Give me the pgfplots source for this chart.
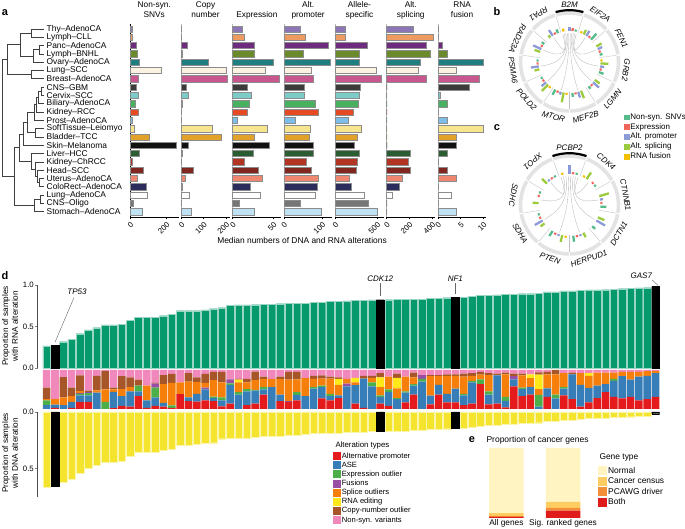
\documentclass[border=0pt]{standalone}
\usepackage{fontspec}
\setmainfont{Liberation Sans}
\usepackage{pgfplots}
\usepackage{pgfplotstable}
\pgfplotsset{compat=1.18}

% tumour-type colours (rows of panel a, top to bottom)
\definecolor{c0}{HTML}{8C76B6}\definecolor{c1}{HTML}{EE9B62}\definecolor{c2}{HTML}{6E2C7F}
\definecolor{c3}{HTML}{6A8A2B}\definecolor{c4}{HTML}{1E7E80}\definecolor{c5}{HTML}{FCF2E2}
\definecolor{c6}{HTML}{C7578E}\definecolor{c7}{HTML}{3B3B3B}\definecolor{c8}{HTML}{7CCBC6}
\definecolor{c9}{HTML}{49B060}\definecolor{c10}{HTML}{E64A24}\definecolor{c11}{HTML}{7DBDEA}
\definecolor{c12}{HTML}{F6E48E}\definecolor{c13}{HTML}{E2A229}\definecolor{c14}{HTML}{111111}
\definecolor{c15}{HTML}{2A5E32}\definecolor{c16}{HTML}{B43424}\definecolor{c17}{HTML}{822620}
\definecolor{c18}{HTML}{EE8670}\definecolor{c19}{HTML}{2B2B5C}\definecolor{c20}{HTML}{FFFFFF}
\definecolor{c21}{HTML}{767676}\definecolor{c22}{HTML}{BEE2F4}
% panel d
\definecolor{apc}{HTML}{E41A1C}\definecolor{asec}{HTML}{377EB8}\definecolor{exoc}{HTML}{4DAF4A}
\definecolor{fusc}{HTML}{984EA3}\definecolor{splc}{HTML}{F57F0A}\definecolor{editc}{HTML}{FFE81A}
\definecolor{cnoc}{HTML}{A65628}\definecolor{nsvc}{HTML}{F088BC}
\definecolor{dgreen}{HTML}{05996B}\definecolor{dyel}{HTML}{F5E42E}
% panel e
\definecolor{norc}{HTML}{FFF4C2}\definecolor{cenc}{HTML}{FDCD62}\definecolor{drvc}{HTML}{F28E36}\definecolor{bothc}{HTML}{E01B1B}
% panels b, c
\definecolor{snvc}{HTML}{55BB8B}\definecolor{expc}{HTML}{F2665A}\definecolor{promc}{HTML}{8C9BD8}
\definecolor{spc}{HTML}{9BCB3C}\definecolor{rfc}{HTML}{F3C000}

\pgfplotsset{
  every axis/.append style={/pgf/number format/assume math mode=true,
    tick label style={font=\fontsize{7.8}{9.5}\selectfont}, scale only axis, anchor=south west},
  abar/.style={xbar, bar shift=0pt, bar width=6.3pt, draw=black!45, line width=0.5pt},
  colstyle/.style={width=48.5pt, height=193pt, xmin=0, ymin=-0.6, ymax=22.64, y dir=reverse,
    axis x line*=bottom, axis y line*=left, axis line style={-}, ytick=\empty,
    tick align=outside, major tick length=2.5pt, xtick style={black, line width=0.5pt},
    xticklabel style={rotate=45, anchor=north east, inner sep=1pt},
    title style={at={(0.5,1)}, anchor=south, align=center, inner sep=1pt, yshift=-2.5pt,
      text depth=2pt, font=\fontsize{8.3}{9.8}\selectfont},
    clip=false},
  dend/.style={no marks, line width=0.7pt, black!75},
  sqd/.style={fill=#1, draw=none, legend image code/.code={\fill[#1] (0pt,-4pt) rectangle (8pt,4pt);}},
  sqe/.style={fill=#1, draw=none, legend image code/.code={\fill[#1] (0pt,-4.5pt) rectangle (9pt,4.5pt);}},
}

\pgfplotstableread{
idx snv cn expr prom ase spl fus
0 11 0 12.3 42 123 236 0
1 15 0 14.7 56 123 413 0
2 35 25 27 115 385 345 1
3 38 3 26.2 50 290 381 2
4 51 119 49.5 121 290 298 10
5 170 203 39.7 71 488 277 4
6 44 207 56.9 76 555 348 9
7 37 22 18 53 305 0 7
8 45 33 23 54 290 0 0.5
9 27 3 20.9 81 278 0 2
10 44 0 18 89 218 0 0
11 15 0 5.3 29 151 0 2
12 26 140 43 70 313 0 10
13 108 177 27 67 266 0 4
14 252 31 45.4 76 222 0 4
15 49 3 25.4 76 290 212 2
16 13 0 14.7 59 262 192 0
17 70 54 31.1 72 250 212 2
18 42 19 36.8 91 171 142 4
19 89 6 22.1 88 190 112 0
20 95 37 34.4 82 349 50 3
21 16 0 8.6 44 393 0 0
22 66 46 27 98 504 0 4
}\dataA

\pgfplotstableread{
i rna dna hl ap ase exo fus spl edit cno nsv
0 0.265 0.666 0 0 10 12 0 3 0 30 45
1 0.277 0.660 1 3 8 0 0 14 0 0 75
2 0.317 0.620 0 0 10 0 0 20 0 52 18
3 0.346 0.597 0 3 15 0 0 15 0 22 45
4 0.413 0.539 0 18 17 4 2 5 0 40 14
5 0.458 0.500 0 18 17 6 2 0 0 4 53
6 0.486 0.475 0 0 42 0 0 6 0 37 15
7 0.518 0.448 0 0 0 18 0 32 0 47 3
8 0.518 0.448 0 2 42 0 0 6 0 5 45
9 0.527 0.439 0 8 25 0 0 18 0 33 16
10 0.575 0.394 0 6 39 0 0 11 0 25 19
11 0.614 0.357 0 33 12 15 0 0 0 15 25
12 0.614 0.357 0 3 19 0 0 38 0 0 40
13 0.614 0.357 0 8 22 25 10 0 0 2 33
14 0.630 0.342 0 6 10 0 0 48 0 23 13
15 0.650 0.327 0 3 0 6 0 58 0 23 10
16 0.690 0.294 0 38 0 0 0 30 0 0 32
17 0.690 0.294 0 20 10 0 0 40 0 22 8
18 0.690 0.288 0 19 20 0 0 30 0 12 19
19 0.700 0.279 0 22 28 0 5 12 0 23 10
20 0.714 0.272 0 20 8 4 0 42 0 21 5
21 0.727 0.236 0 7 15 8 0 38 0 27 5
22 0.755 0.233 0 14 47 5 10 0 0 0 24
23 0.760 0.230 0 0 37 6 0 25 7 2 23
24 0.760 0.230 0 10 35 6 0 17 0 9 23
25 0.763 0.221 0 14 33 2 0 25 0 22 4
26 0.767 0.218 0 37 13 6 0 21 0 6 17
27 0.770 0.215 0 0 56 0 0 21 0 0 23
28 0.775 0.212 0 20 17 0 0 40 0 6 17
29 0.780 0.209 0 18 0 0 2 55 0 20 5
30 0.780 0.206 0 22 14 7 0 33 0 19 5
31 0.783 0.200 0 0 33 0 0 47 0 0 20
32 0.790 0.190 0 0 52 4 0 21 0 8 15
33 0.790 0.190 0 27 29 4 0 18 0 8 14
34 0.807 0.184 0 22 11 6 0 39 0 5 17
35 0.807 0.188 0 28 7 0 0 27 15 4 19
36 0.810 0.180 0 0 58 0 7 12 0 0 23
37 0.815 0.178 0 14 47 0 0 7 12 0 20
38 0.815 0.178 0 3 75 0 0 0 0 7 15
39 0.820 0.174 0 0 58 10 0 12 0 5 15
40 0.823 0.171 1 14 17 4 0 21 25 11 8
41 0.823 0.171 0 8 35 7 0 33 0 0 17
42 0.827 0.168 0 0 25 3 0 25 27 11 9
43 0.827 0.168 0 17 25 3 0 38 0 0 17
44 0.830 0.165 0 37 23 4 0 17 0 12 7
45 0.830 0.165 0 0 70 7 10 0 0 0 13
46 0.840 0.155 0 12 22 0 0 50 0 3 13
47 0.840 0.155 0 37 25 0 0 22 0 3 13
48 0.847 0.148 0 17 22 0 0 46 0 4 11
49 0.855 0.140 1 17 35 0 0 33 0 4 11
50 0.855 0.140 0 10 25 4 0 44 0 8 9
51 0.860 0.135 0 14 54 4 0 13 0 7 8
52 0.875 0.122 0 64 0 12 0 12 0 7 5
53 0.875 0.120 0 12 25 8 0 42 0 5 8
54 0.880 0.115 0 14 72 0 0 0 0 5 9
55 0.890 0.105 0 4 17 10 0 58 0 4 7
56 0.890 0.105 0 58 18 0 8 0 0 7 9
57 0.895 0.100 0 33 18 4 0 31 0 5 9
58 0.895 0.100 0 37 19 0 0 23 10 0 11
59 0.900 0.095 0 0 6 30 0 15 37 6 6
60 0.916 0.080 0 31 22 0 0 36 0 6 5
61 0.916 0.080 0 0 27 10 0 52 0 11 0
62 0.928 0.070 0 35 17 4 0 36 0 0 8
63 0.928 0.070 0 25 64 0 0 0 0 4 7
64 0.936 0.062 0 6 56 0 0 30 0 0 8
65 0.940 0.058 0 17 37 0 0 31 7 0 8
66 0.940 0.058 0 28 32 0 0 33 0 0 7
67 0.943 0.055 0 43 21 0 0 29 0 0 7
68 0.947 0.050 0 31 41 5 0 16 0 0 7
69 0.955 0.045 0 27 57 0 0 11 0 0 5
70 0.960 0.042 0 31 44 0 0 20 0 0 5
71 0.964 0.040 0 22 61 0 0 12 0 0 5
72 0.967 0.037 0 25 60 0 0 12 0 0 3
73 0.984 0.015 1 31 61 0 0 6 0 0 2
}\dataD

\pgfplotstableread{
i both drv cen nor
0 1.5 1.5 4 93
1 10.6 3.9 8.7 76.8
}\dataE

% circos bars: lengths (pt) per alteration type for each gene
\pgfplotstableread{
gene ang snv exp prom spl fus
B2M 90 2 3 4 0 3
EIF2A 57.27 8 2 6 5 2
FEN1 24.55 3 2 5 6 0
GRB2 -8.18 5 2 4 8 2
LGMN -40.91 3 2 8 6 0
MEF2B -73.64 4 2 6 8 0
MTOR -106.36 6 2 3 10 2
POLD2 -139.09 2 2 6 9 2
PSMA6 -171.82 2 2 8 5 0
RAD23A 155.45 3 2 9 6 0
RPA1 122.73 4 2 7 3 0
}\circB
\pgfplotstableread{
gene ang snv exp prom spl fus
PCBP2 90 2 2 9 0 2
CDK4 50 2 2 0 8 2
CTNNB1 10 6 2 3 10 0
DCTN1 -30 4 0 10 7 0
HERPUD1 -70 6 2 2 5 0
PTEN -110 6 2 2 7 2
SDHA -150 2 2 9 5 0
SDHC 170 2 2 0 6 0
XPO1 130 2 2 2 7 0
}\circC

\newcommand{\acol}[6]{%
\begin{axis}[colstyle, at={(#1pt,312pt)}, xmax=#3, xtick={#4}, title={#5}, y axis line style={#6}]
\pgfplotsinvokeforeach{0,...,22}{%
\addplot[abar, fill=c##1, restrict expr to domain={\thisrow{idx}}{##1:##1}] table[x=#2, y=idx] {\dataA};}
\end{axis}}

\newcommand{\qbar}[4]{\addplot[#4, forget plot, line width=2.3pt,
  quiver={u={\thisrow{#2}*cos(\thisrow{ang}+#3)}, v={\thisrow{#2}*sin(\thisrow{ang}+#3)},
  every arrow/.append style={line width=2.3pt}}]
  table[x expr={31*cos(\thisrow{ang}+#3)}, y expr={31*sin(\thisrow{ang}+#3)}] {#1};}

\newcommand{\ringdeco}[4]{% center, n, names, n-1
\begin{scope}[shift={#1}]
 \pgfmathsetmacro{\sw}{360/#2}
 \foreach \j in {1,...,#4} {
   \pgfmathsetmacro{\aa}{90-\sw/2+3+(\sw-6)*(\j-1)/(#4-1)}
   \pgfmathsetmacro{\bb}{90-\sw*\j}
   \draw[gray!55, line width=0.35pt] (\aa:29pt) .. controls (\aa:8pt) and (\bb:8pt) .. (\bb:29pt);
 }
 \foreach \nm [count=\i from 0] in {#3} {
   \pgfmathsetmacro{\th}{90-\sw*\i}
   \pgfmathsetmacro{\rt}{\th>=-20 ? \th-90 : \th+90}
   \pgfmathsetmacro{\sa}{\th+\sw/2-0.8}
   \pgfmathsetmacro{\ea}{\th-\sw/2+0.8}
   \pgfmathsetmacro{\bd}{\th+\sw/2}
   \draw[gray!22, line width=3.6pt] (\sa:49pt) arc[start angle=\sa, end angle=\ea, radius=49pt];
   \draw[gray!50, line width=0.35pt] (\bd:30pt) -- (\bd:47pt);
   \node[font=\itshape\fontsize{8}{9}\selectfont, rotate=\rt] at (\th:57pt) {\nm};
 }
 \pgfmathsetmacro{\sa}{90+\sw/2-0.8}
 \pgfmathsetmacro{\ea}{90-\sw/2+0.8}
 \draw[line width=2.2pt] (\sa:51.8pt) arc[start angle=\sa, end angle=\ea, radius=51.8pt];
\end{scope}}

\begin{document}
\begin{tikzpicture}[font=\fontsize{8.2}{9.8}\selectfont]
\path[use as bounding box] (0,0) rectangle (685pt,529pt);

%% ---------- panel a ----------
\node[font=\bfseries\fontsize{11}{12}\selectfont] at (5pt,516pt) {a};
\begin{axis}[at={(0pt,312pt)}, width=45pt, height=193pt, xmin=0, xmax=45,
  ymin=-0.6, ymax=22.64, y dir=reverse, hide x axis, axis y line*=right,
  y axis line style={draw=none}, ytick={0,...,22}, major tick length=0pt,
  yticklabels={Thy--AdenoCA,Lymph--CLL,Panc--AdenoCA,Lymph--BNHL,Ovary--AdenoCA,Lung--SCC,
    Breast--AdenoCA,CNS--GBM,Cervix--SCC,Biliary--AdenoCA,Kidney--RCC,Prost--AdenoCA,
    SoftTissue--Leiomyo,Bladder--TCC,Skin--Melanoma,Liver--HCC,Kidney--ChRCC,Head--SCC,
    Uterus--AdenoCA,ColoRect--AdenoCA,Lung--AdenoCA,CNS--Oligo,Stomach--AdenoCA},
  yticklabel style={anchor=west, inner sep=0pt, xshift=1.5pt, font=\fontsize{8.4}{9}\selectfont},
  clip=false]
\addplot[dend] coordinates {(44,0) (31.7,0) (31.7,1) (44,1)};
\addplot[dend] coordinates {(44,2) (39.5,2) (39.5,3) (44,3)};
\addplot[dend] coordinates {(39.5,2.5) (33,2.5) (33,4) (44,4)};
\addplot[dend] coordinates {(31.7,0.5) (20.7,0.5) (20.7,3.25) (33,3.25)};
\addplot[dend] coordinates {(44,5) (31.7,5) (31.7,6) (44,6)};
\addplot[dend] coordinates {(20.7,1.875) (7.3,1.875) (7.3,5.5) (31.7,5.5)};
\addplot[dend] coordinates {(44,7) (41,7) (41,8) (44,8)};
\addplot[dend] coordinates {(41,7.5) (38,7.5) (38,9) (44,9)};
\addplot[dend] coordinates {(38,8.25) (36,8.25) (36,10) (44,10)};
\addplot[dend] coordinates {(36,9.125) (34,9.125) (34,11) (44,11)};
\addplot[dend] coordinates {(44,12) (35,12) (35,13) (44,13)};
\addplot[dend] coordinates {(34,10.06) (27,10.06) (27,12.5) (35,12.5)};
\addplot[dend] coordinates {(27,11.28) (23,11.28) (23,14) (44,14)};
\addplot[dend] coordinates {(44,18) (39,18) (39,19) (44,19)};
\addplot[dend] coordinates {(44,17) (37,17) (37,18.5) (39,18.5)};
\addplot[dend] coordinates {(44,16) (35,16) (35,17.75) (37,17.75)};
\addplot[dend] coordinates {(44,15) (31,15) (31,16.875) (35,16.875)};
\addplot[dend] coordinates {(23,12.64) (19,12.64) (19,15.94) (31,15.94)};
\addplot[dend] coordinates {(44,20) (40,20) (40,21) (44,21)};
\addplot[dend] coordinates {(40,20.5) (34,20.5) (34,22) (44,22)};
\addplot[dend] coordinates {(19,14.29) (14.5,14.29) (14.5,21.25) (34,21.25)};
\addplot[dend] coordinates {(7.3,3.69) (2.7,3.69) (2.7,17.77) (14.5,17.77)};
\end{axis}

\acol{130}{snv}{266}{0,200}{Non-syn.\\SNVs}{black, line width=0.8pt}
\acol{181.3}{cn}{217}{0,100,200}{Copy\\number}{gray!55}
\acol{232.6}{expr}{59.6}{0,50}{Expression}{gray!55}
\acol{283.9}{prom}{127}{0,100}{Alt.\\promoter}{gray!55}
\acol{335.2}{ase}{580}{0,500}{Allele-\\specific}{gray!55}
\acol{386.5}{spl}{426}{0,200,400}{Alt.\\splicing}{gray!55}
\acol{437.8}{fus}{10.66}{0,5,10}{RNA\\fusion}{gray!55}
\node[font=\fontsize{8.4}{10}\selectfont] at (302pt,288pt) {Median numbers of DNA and RNA alterations};

%% ---------- panels b and c ----------
\node[font=\bfseries\fontsize{11}{12}\selectfont] at (497pt,517pt) {b};
\node[font=\bfseries\fontsize{11}{12}\selectfont] at (497pt,401pt) {c};
\ringdeco{(569.5pt,467pt)}{11}{B2M,EIF2A,FEN1,GRB2,LGMN,MEF2B,MTOR,POLD2,PSMA6,RAD23A,RPA1}{10}
\ringdeco{(569.5pt,324pt)}{9}{PCBP2,CDK4,CTNNB1,DCTN1,HERPUD1,PTEN,SDHA,SDHC,XPO1}{8}

\begin{axis}[at={(569.5pt,467pt)}, anchor=center, width=120pt, height=120pt,
  xmin=-60, xmax=60, ymin=-60, ymax=60, hide axis, clip=false,
  legend style={at={(0.954,0.083)}, anchor=north west, draw=none, fill=none,
    font=\fontsize{8}{9}\selectfont, row sep=0pt, inner sep=0pt,
    nodes={inner sep=1pt, text height=6pt, text depth=1.8pt}, cells={anchor=west}}]
\qbar{\circB}{snv}{(-11)}{snvc}
\qbar{\circB}{exp}{(-5.5)}{expc}
\qbar{\circB}{prom}{0}{promc}
\qbar{\circB}{spl}{5.5}{spc}
\qbar{\circB}{fus}{11}{rfc}
\addlegendimage{legend image code/.code={\fill[snvc] (0pt,-2.4pt) rectangle (4.8pt,2.4pt);}}
\addlegendentry{Non-syn. SNVs}
\addlegendimage{legend image code/.code={\fill[expc] (0pt,-2.4pt) rectangle (4.8pt,2.4pt);}}
\addlegendentry{Expression}
\addlegendimage{legend image code/.code={\fill[promc] (0pt,-2.4pt) rectangle (4.8pt,2.4pt);}}
\addlegendentry{Alt. promoter}
\addlegendimage{legend image code/.code={\fill[spc] (0pt,-2.4pt) rectangle (4.8pt,2.4pt);}}
\addlegendentry{Alt. splicing}
\addlegendimage{legend image code/.code={\fill[rfc] (0pt,-2.4pt) rectangle (4.8pt,2.4pt);}}
\addlegendentry{RNA fusion}
\end{axis}

\begin{axis}[at={(569.5pt,324pt)}, anchor=center, width=120pt, height=120pt,
  xmin=-60, xmax=60, ymin=-60, ymax=60, hide axis, clip=false]
\qbar{\circC}{snv}{(-13)}{snvc}
\qbar{\circC}{exp}{(-6.5)}{expc}
\qbar{\circC}{prom}{0}{promc}
\qbar{\circC}{spl}{6.5}{spc}
\qbar{\circC}{fus}{13}{rfc}
\end{axis}

%% ---------- panel d ----------
\node[font=\bfseries\fontsize{11}{12}\selectfont] at (5pt,253pt) {d};
\node[rotate=90, align=center, font=\fontsize{8.2}{9.8}\selectfont] at (10pt,203pt) {Proportion of samples\\with RNA alteration};
\node[rotate=90, align=center, font=\fontsize{8.2}{9.8}\selectfont] at (10pt,76pt) {Proportion of samples\\with DNA alteration};

\begin{axis}[at={(37.5pt,161pt)}, width=622.2pt, height=83pt, xmin=-1.1, xmax=73.5,
  ymin=0, ymax=1, axis x line=none, axis y line*=left, axis line style={-, black!70},
  ytick={0,0.5,1}, yticklabels={0.0,0.5,1.0}, tick align=outside, major tick length=2.5pt,
  yticklabel style={inner sep=1pt}, clip=false]
\addplot[ybar, bar shift=0pt, bar width=7.6pt, fill=dgreen, draw=white!60!dgreen, line width=0.3pt,
  restrict expr to domain={\thisrow{hl}}{0:0}] table[x=i, y=rna] {\dataD};
\addplot[ybar, bar shift=0pt, bar width=7.6pt, fill=black, draw=black, line width=0.3pt,
  restrict expr to domain={\thisrow{hl}}{1:1}] table[x=i, y=rna] {\dataD};
\node[font=\itshape\fontsize{8}{9}\selectfont] at (axis cs:3.64,0.92) {TP53};
\draw[black!60, line width=0.4pt] (axis cs:3.28,0.85) -- (axis cs:1,0.31);
\node[font=\itshape\fontsize{8}{9}\selectfont] at (axis cs:40,1.08) {CDK12};
\draw[black!60, line width=0.4pt] (axis cs:40,1.03) -- (axis cs:40,0.87);
\node[font=\itshape\fontsize{8}{9}\selectfont] at (axis cs:49,1.08) {NF1};
\draw[black!60, line width=0.4pt] (axis cs:49,1.03) -- (axis cs:49,0.89);
\node[font=\itshape\fontsize{8}{9}\selectfont] at (axis cs:71.3,1.115) {GAS7};
\draw[black!60, line width=0.4pt] (axis cs:72.6,1.06) -- (axis cs:73.3,0.995);
\end{axis}

\begin{axis}[at={(37.5pt,120pt)}, width=622.2pt, height=39pt, xmin=-1.1, xmax=73.5,
  ymin=0, ymax=100, hide axis, ybar stacked, bar width=7.6pt,
  legend style={at={(0.475,-1.09)}, anchor=north west, draw=none, fill=none,
    font=\fontsize{7.6}{9}\selectfont, row sep=0pt, inner sep=0pt,
    nodes={inner sep=0.6pt, text height=6pt, text depth=1.9pt}, cells={anchor=west}}]
\addplot[sqd=apc] table[x=i, y=ap] {\dataD};
\addplot[sqd=asec] table[x=i, y=ase] {\dataD};
\addplot[sqd=exoc] table[x=i, y=exo] {\dataD};
\addplot[sqd=fusc] table[x=i, y=fus] {\dataD};
\addplot[sqd=splc] table[x=i, y=spl] {\dataD};
\addplot[sqd=editc] table[x=i, y=edit] {\dataD};
\addplot[sqd=cnoc] table[x=i, y=cno] {\dataD};
\addplot[sqd=nsvc] table[x=i, y=nsv] {\dataD};
\legend{Alternative promoter, ASE, Expression outlier, Fusions, Splice outliers, RNA editing, Copy-number outlier, Non-syn. variants}
\end{axis}
\node[anchor=west, font=\fontsize{7.8}{9}\selectfont] at (332pt,83.5pt) {Alteration types};

\begin{axis}[at={(37.5pt,32.3pt)}, width=622.2pt, height=84.7pt, xmin=-1.1, xmax=73.5,
  ymin=0, ymax=0.75, y dir=reverse, axis x line=none, axis y line*=left, axis line style={-, black!70},
  ytick={0,0.5}, yticklabels={0.0,0.5}, tick align=outside, major tick length=2.5pt,
  yticklabel style={inner sep=1pt}]
\addplot[ybar, bar shift=0pt, bar width=7.6pt, fill=dyel, draw=white!60!dyel, line width=0.3pt,
  restrict expr to domain={\thisrow{hl}}{0:0}] table[x=i, y=dna] {\dataD};
\addplot[ybar, bar shift=0pt, bar width=7.6pt, fill=black, draw=black, line width=0.3pt,
  restrict expr to domain={\thisrow{hl}}{1:1}] table[x=i, y=dna] {\dataD};
\end{axis}

%% ---------- panel e ----------
\node[font=\bfseries\fontsize{11}{12}\selectfont] at (472pt,89pt) {e};
\node[anchor=west, font=\fontsize{8.5}{9}\selectfont] at (483pt,89pt) {Proportion of cancer genes};
\begin{axis}[at={(478pt,11pt)}, width=113.4pt, height=70pt, xmin=-0.5, xmax=1.5,
  ymin=0, ymax=100, ybar stacked, bar width=34.6pt, axis y line=none, axis x line*=bottom,
  x axis line style={draw=none}, xtick={0,1}, xticklabels={All genes, Sig. ranked genes},
  major tick length=0pt, xticklabel style={inner sep=0pt, yshift=-1.5pt, font=\fontsize{8.3}{9}\selectfont},
  reverse legend,
  legend style={at={(1.058,0.75)}, anchor=north west, draw=none, fill=none,
    font=\fontsize{8.4}{9}\selectfont, row sep=0pt, inner sep=0pt,
    nodes={inner sep=1pt, text height=6.5pt, text depth=2pt}, cells={anchor=west}}]
\addplot[sqe=bothc] table[x=i, y=both] {\dataE};
\addplot[sqe=drvc] table[x=i, y=drv] {\dataE};
\addplot[sqe=cenc] table[x=i, y=cen] {\dataE};
\addplot[sqe=norc] table[x=i, y=nor] {\dataE};
\legend{Both, PCAWG driver, Cancer census, Normal}
\end{axis}
\node[anchor=west, font=\fontsize{8.4}{9}\selectfont] at (596pt,72pt) {Gene type};

\end{tikzpicture}
\end{document}
